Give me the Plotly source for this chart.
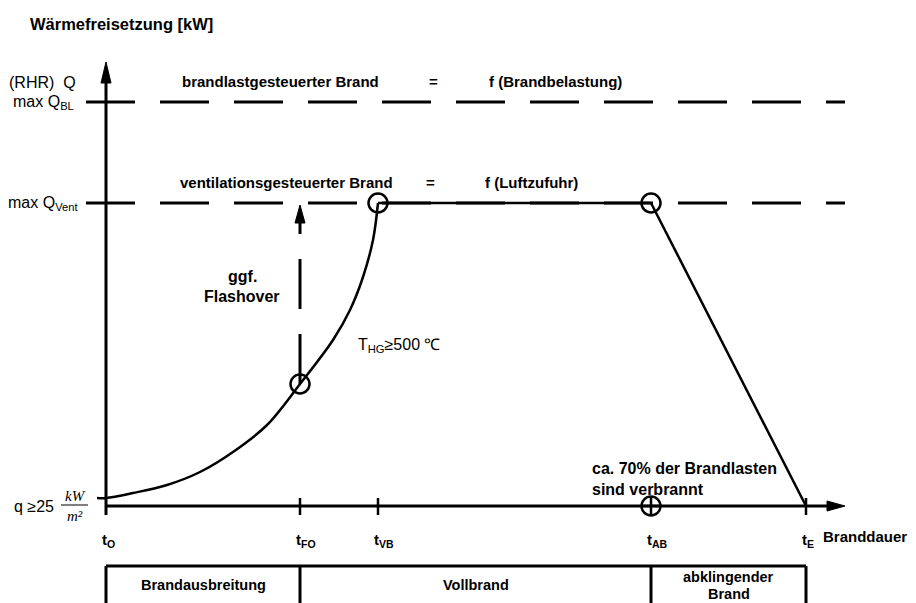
import plotly.graph_objects as go

# schematic units: time along x, heat release along y (origin = axis crossing)
t_names = ["O", "FO", "VB", "AB", "E"]
t_vals = [0, 194, 272, 545, 700]

q_start = 8
q_vent = 303
q_bl = 404

# growth phase
growth_t = [-9, 0, 27, 61, 94, 127, 161, 194, 227, 244, 257, 267, 272]
growth_q = [8, 8, 13, 21, 34, 54, 81, 122, 166, 196, 229, 266, 303]

phase_edges = [0, 194, 545, 700]
phase_names = [["Brandausbreitung"], ["Vollbrand"], ["abklingender", "Brand"]]

x_end = 739
y_end = 444

FONT = "Arial, Liberation Sans, sans-serif"
BLACK = "#000000"

fig = go.Figure()


def seg(xs, ys, width=3, dash="solid"):
    fig.add_trace(go.Scatter(x=xs, y=ys, mode="lines", hoverinfo="skip",
                             line=dict(color=BLACK, width=width, dash=dash)))


def arrow_head(xt, yt, dx, dy, length=19, half=5):
    # filled triangle with tip at (xt, yt), pointing along (dx, dy)
    bx, by = xt - dx * length, yt - dy * length
    px, py = -dy * half, dx * half
    fig.add_trace(go.Scatter(x=[xt, bx + px, bx - px, xt], y=[yt, by + py, by - py, yt],
                             mode="lines", fill="toself", fillcolor=BLACK, hoverinfo="skip",
                             line=dict(color=BLACK, width=1)))


def label(x, y, text, size=16, xanchor="left", family=FONT, yanchor="middle"):
    fig.add_annotation(x=x, y=y, text=text, showarrow=False, xanchor=xanchor,
                       yanchor=yanchor, font=dict(family=family, size=size, color=BLACK))


# level lines
seg([-20, x_end], [q_bl, q_bl], dash="49px,25px")
seg([-20, x_end], [q_vent, q_vent], dash="49px,25px")

# axes
seg([0, 0], [-9, y_end - 18])
arrow_head(0, y_end, 0, 1, length=21)
seg([0, x_end - 16], [0, 0])
arrow_head(x_end, 0, 1, 0, length=18)
for t in t_vals[1:3] + t_vals[4:]:
    seg([t, t], [-9, 8], width=2.5)

# fire curve
seg(growth_t, growth_q, width=2.5)
fig.data[-1].line.shape = "spline"
seg([t_vals[2], t_vals[3]], [q_vent, q_vent], width=2.5)
seg([t_vals[3], t_vals[4]], [q_vent, 0], width=2.5)

# possible flashover
seg([t_vals[1], t_vals[1]], [growth_q[7], q_vent - 20], width=3, dash="50px,25px")
arrow_head(t_vals[1], q_vent - 2, 0, 1, length=18)

fig.add_trace(go.Scatter(x=[t_vals[1], t_vals[2], t_vals[3]], y=[growth_q[7], q_vent, q_vent],
                         mode="markers", hoverinfo="skip",
                         marker=dict(symbol="circle-open", size=19, color=BLACK,
                                     line=dict(width=2.5, color=BLACK))))
fig.add_trace(go.Scatter(x=[t_vals[3]], y=[0], mode="markers", hoverinfo="skip",
                         marker=dict(symbol="circle-cross-open", size=19, color=BLACK,
                                     line=dict(width=2.5, color=BLACK))))

# phase boxes
seg([phase_edges[0], phase_edges[-1]], [-60, -60], width=3)
for e in phase_edges:
    seg([e, e], [-60, -120], width=3)
for i, lines in enumerate(phase_names):
    mid = (phase_edges[i] + phase_edges[i + 1]) / 2
    top = -79 + 8.5 * (len(lines) - 1)
    for k, line in enumerate(lines):
        label(mid, top - 17 * k, "<b>" + line + "</b>", size=14.5, xanchor="center")

# time labels
for name, t in zip(t_names, t_vals):
    label(t - 6, -34, "<b>t<sub>" + name + "</sub></b>", size=15)
label(t_vals[4] + 15, -30, "<b>Branddauer</b>", size=15)

# y labels
label(-78, 506 - 24, "<b>Wärmefreisetzung [kW]</b>", size=16.5)
label(-28, q_bl + 20, "(RHR)  Q", size=16, xanchor="right")
label(-30, q_bl, "max Q<sub>BL</sub>", size=16, xanchor="right")
label(-26, q_vent, "max Q<sub>Vent</sub>", size=16, xanchor="right")
label(-50, 0, "q ≥25", size=16, xanchor="right")
label(-31, 10, "<i>kW</i>", size=15, xanchor="center", family="Liberation Serif, serif")
label(-31, -10, "<i>m²</i>", size=15, xanchor="center", family="Liberation Serif, serif")
seg([-45, -18], [1, 1], width=1)

# curve texts
label(74, q_bl + 21, "<b>brandlastgesteuerter Brand</b>", size=15)
label(327, q_bl + 21, "<b>=</b>", size=15, xanchor="center")
label(381, q_bl + 21, "<b>f (Brandbelastung)</b>", size=15)
label(72, q_vent + 21, "<b>ventilationsgesteuerter Brand</b>", size=15)
label(324, q_vent + 21, "<b>=</b>", size=15, xanchor="center")
label(377, q_vent + 21, "<b>f (Luftzufuhr)</b>", size=15)
label(136, 230, "<b>ggf.</b>", size=16, xanchor="center")
label(136, 210, "<b>Flashover</b>", size=16, xanchor="center")
label(250, 161, "T<sub>HG</sub>≥500 ℃", size=16)
label(484, 38, "<b>ca. 70% der Brandlasten</b>", size=16)
label(484, 17, "<b>sind verbrannt</b>", size=16)

fig.update_layout(
    width=908, height=595, autosize=False,
    margin=dict(l=0, r=0, t=0, b=0),
    paper_bgcolor="white", plot_bgcolor="white",
    showlegend=False,
    xaxis=dict(range=[-98, 810], visible=False, fixedrange=True),
    yaxis=dict(range=[-97, 498], visible=False, fixedrange=True),
)

fig.write_html("out.html")
